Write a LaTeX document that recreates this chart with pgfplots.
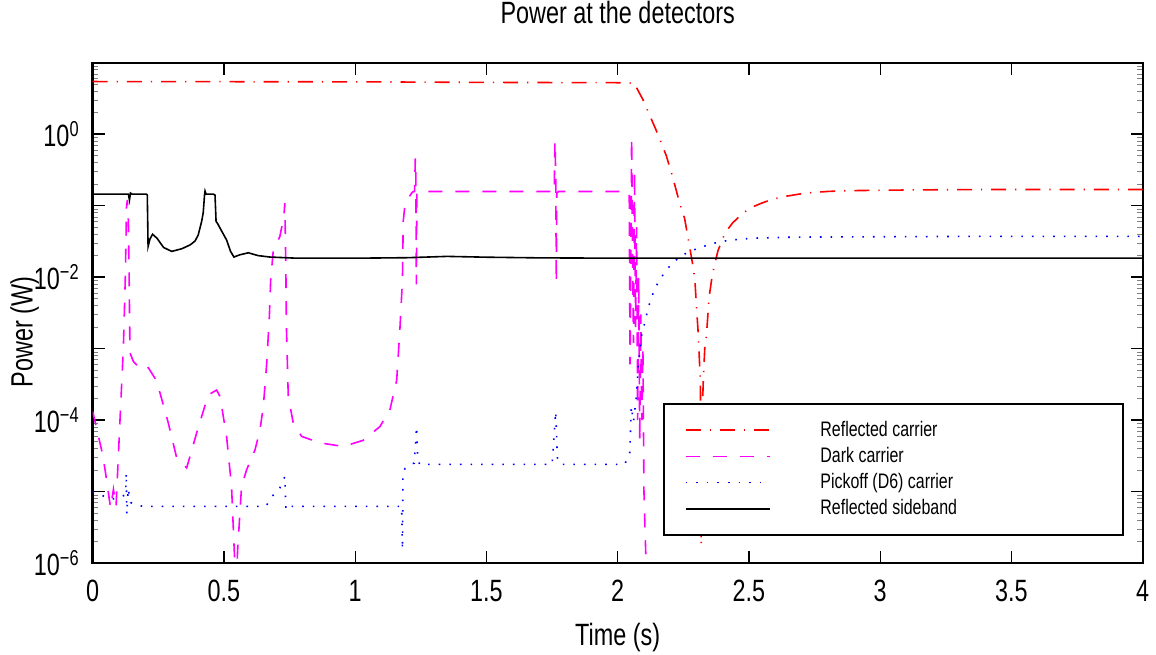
\documentclass[border=0pt]{standalone}
\usepackage{fontspec}
\setmainfont{Liberation Sans}[FakeStretch=0.76]
\usepackage{pgfplots}
\pgfplotsset{compat=1.18}
\definecolor{mag}{RGB}{255,0,255}
\definecolor{rd}{RGB}{255,0,0}
\definecolor{bl}{RGB}{0,0,255}
\begin{document}
\begin{tikzpicture}
\useasboundingbox (-46.35pt,-45.5pt) rectangle (531.65pt,281.5pt);
\begin{axis}[
  scale only axis,
  width=525pt, height=250.15pt,
  ymode=log,
  xmin=0, xmax=4, ymin=1e-6, ymax=10,
  xtick={0,0.5,...,4},
  xticklabels={0,0.5,1,1.5,2,2.5,3,3.5,4},
  ytick={1e-6,1e-5,1e-4,1e-3,1e-2,1e-1,1,10},
  yticklabels={{10\textsuperscript{−6}},{},{10\textsuperscript{−4}},{},{10\textsuperscript{−2}},{},{10\textsuperscript{0}},{}},
  minor ytick={},
  tick align=inside,
  major tick length=6pt,
  axis line style={line width=1.2pt},
  major tick style={line width=0.7pt, black},
  /pgf/number format/assume math mode=true,
  tick label style={font=\fontsize{15.4}{18}\selectfont},
  xticklabel style={yshift=-5pt},
  yticklabel style={xshift=-3pt},
  title={Power at the detectors},
  title style={font=\fontsize{15.4}{18}\selectfont, at={(axis description cs:0.5,1)}, anchor=base, yshift=13.5pt},
  xlabel={Time (s)},
  xlabel style={font=\fontsize{15.4}{18}\selectfont, at={(axis description cs:0.5,0)}, anchor=base, yshift=-41pt},
  ylabel={Power (W)},
  ylabel style={font=\fontsize{15.4}{18}\selectfont, at={(axis description cs:0,0.5)}, anchor=center, xshift=-9.5pt, yshift=34pt},
  legend image code/.code={\draw[#1] (0pt,0pt) -- (42pt,0pt);},
  legend style={at={(rel axis cs:0.543,0.3198)}, anchor=north west, draw=black, line width=1pt, fill=white,
    font=\fontsize{10.5}{12.75}\selectfont, cells={anchor=west}, inner xsep=10.5pt, inner ysep=6.5pt, row sep=0pt},
  legend cell align=left,
  every axis plot/.append style={line width=0.8pt},
]
% Reflected carrier
\addplot[rd, dash pattern=on 7.5pt off 4.5pt on 0.6pt off 4.5pt] coordinates {
(0,5.45) (1.0,5.4) (1.5,5.3) (2.0,5.25) (2.04,5.25) (2.047,5.2) (2.055,4.9) (2.06,5.1) (2.07,4.6)
(2.097,3.0) (2.12,1.9) (2.145,1.17) (2.164,0.79) (2.185,0.5) (2.205,0.285) (2.22,0.18) (2.236,0.108)
(2.255,0.066) (2.277,0.023) (2.287,0.0141) (2.294,0.0091) (2.302,0.0030) (2.306,0.0018) (2.312,0.0006)
(2.315,0.00036) (2.318,1.8e-6) (2.322,0.00012) (2.326,0.00036) (2.332,0.00107) (2.338,0.0015)
(2.348,0.0052) (2.36,0.0105) (2.37,0.0155) (2.382,0.0234) (2.401,0.0355) (2.42,0.047) (2.437,0.0569)
(2.469,0.0741) (2.503,0.0923) (2.547,0.108) (2.589,0.123) (2.65,0.137) (2.716,0.150) (2.8,0.158)
(2.871,0.162) (3.124,0.166) (3.38,0.168) (4.0,0.168)
};
\addlegendentry{\makebox[162pt][l]{\hspace*{23pt}Reflected carrier}}
% Dark carrier
\addplot[mag, dash pattern=on 7pt off 6.5pt] coordinates {
(0,1.32e-4) (0.034,3.8e-5) (0.047,2.04e-5) (0.068,5.9e-6) (0.079,1.07e-5) (0.089,6.2e-6) (0.104,1e-4)
(0.117,1.07e-3) (0.124,9.1e-3) (0.129,0.098) (0.132,0.12) (0.136,0.06) (0.139,9.1e-3) (0.142,8.7e-4)
(0.155,6.6e-4) (0.186,5.0e-4) (0.212,5.4e-4) (0.244,3.5e-4) (0.288,9.1e-5) (0.32,2.95e-5) (0.358,2.14e-5)
(0.396,6.6e-5) (0.44,2.24e-4) (0.472,2.63e-4) (0.485,2.14e-4) (0.51,5.9e-5) (0.529,1.17e-5) (0.538,1.9e-6)
(0.546,4e-7) (0.552,1.5e-6) (0.567,1.17e-5) (0.586,2e-5) (0.618,3.8e-5) (0.637,7.2e-5) (0.65,1.55e-4)
(0.663,6.3e-4) (0.673,2.8e-3) (0.678,9.1e-3) (0.688,0.024) (0.713,0.037) (0.728,0.07) (0.732,0.108)
(0.736,0.0115) (0.738,2e-3) (0.745,2.14e-4) (0.764,9.1e-5) (0.796,5.9e-5) (0.866,4.8e-5) (0.954,4.27e-5)
(1.03,5.2e-5) (1.094,8.1e-5) (1.132,1.38e-4) (1.158,3.6e-4) (1.17,1.8e-3) (1.18,9.1e-3) (1.183,0.06)
(1.19,0.108) (1.215,0.15) (1.222,0.158) (1.226,0.158) (1.229,0.457) (1.231,0.3) (1.233,7.9e-3)
(1.235,0.15) (1.24,0.158) (1.75,0.158) (1.758,0.15) (1.761,0.8) (1.764,0.25) (1.766,8.3e-3) (1.768,0.15)
(1.775,0.158) (2.042,0.158) (2.044,0.15) (2.047,6e-4) (2.05,0.02) (2.053,0.9) (2.056,0.05) (2.06,1.2e-3)
(2.064,0.3) (2.068,2e-3) (2.072,0.05) (2.076,1e-4) (2.08,0.01) (2.084,5e-5) (2.088,3e-3) (2.092,1e-4)
(2.096,1e-3) (2.1,1e-5) (2.104,3e-6) (2.108,1e-6) (2.112,3e-7) (2.12,1e-7)
};
\addlegendentry{\makebox[162pt][l]{\hspace*{23pt}Dark carrier}}
% Pickoff (D6) carrier
\addplot[bl, dash pattern=on 0.8pt off 4.5pt] coordinates {
(0,1.0e-5) (0.04,8.7e-6) (0.08,7.9e-6) (0.11,8.5e-6) (0.125,9e-6) (0.128,1.82e-5) (0.13,4.8e-6)
(0.135,1.1e-5) (0.145,7e-6) (0.19,6.2e-6) (0.66,6.2e-6) (0.68,8.3e-6) (0.713,1.12e-5) (0.732,1.62e-5)
(0.736,5.6e-6) (0.745,6.2e-6) (1.177,6.2e-6) (1.18,1.55e-6) (1.182,1.82e-5) (1.19,2.1e-5) (1.208,2.4e-5)
(1.225,2.5e-5) (1.234,8.1e-5) (1.238,3e-5) (1.245,2.4e-5) (1.75,2.4e-5) (1.764,1.32e-4) (1.77,3e-5)
(1.78,2.4e-5) (2.027,2.4e-5) (2.046,3.5e-5) (2.052,1.55e-4) (2.06,9.5e-5) (2.071,2.1e-4) (2.078,5.4e-4)
(2.09,1.48e-3) (2.103,2.3e-3) (2.116,3.7e-3) (2.132,5.6e-3) (2.154,8.5e-3) (2.183,0.0123) (2.209,0.0158)
(2.243,0.02) (2.281,0.0234) (2.319,0.0263) (2.361,0.0295) (2.399,0.0316) (2.437,0.0331) (2.516,0.0351)
(2.68,0.0363) (3.38,0.0372) (4.0,0.0372)
};
\addlegendentry{\makebox[162pt][l]{\hspace*{23pt}Pickoff (D6) carrier}}
% Reflected sideband
\addplot[black, solid] coordinates {
(0,0.145) (0.13,0.145) (0.136,0.145) (0.14,0.12) (0.144,0.15) (0.15,0.145) (0.205,0.145) (0.208,0.14)
(0.211,0.0269) (0.218,0.034) (0.228,0.0398) (0.245,0.035) (0.27,0.026) (0.301,0.0229) (0.34,0.025)
(0.371,0.0282) (0.39,0.032) (0.402,0.0389) (0.415,0.06) (0.421,0.0794) (0.426,0.14) (0.428,0.16)
(0.432,0.145) (0.46,0.145) (0.466,0.14) (0.470,0.06) (0.475,0.0569) (0.49,0.045) (0.51,0.0331)
(0.525,0.023) (0.538,0.0191) (0.56,0.0205) (0.593,0.0219) (0.63,0.020) (0.675,0.0191) (0.777,0.0184)
(1.0,0.0184) (1.2,0.0187) (1.35,0.0195) (1.5,0.019) (1.7,0.0186) (2.0,0.0184) (2.5,0.0184) (4.0,0.0184)
};
\addlegendentry{\makebox[162pt][l]{\hspace*{23pt}Reflected sideband}}
\end{axis}
\end{tikzpicture}
\end{document}
